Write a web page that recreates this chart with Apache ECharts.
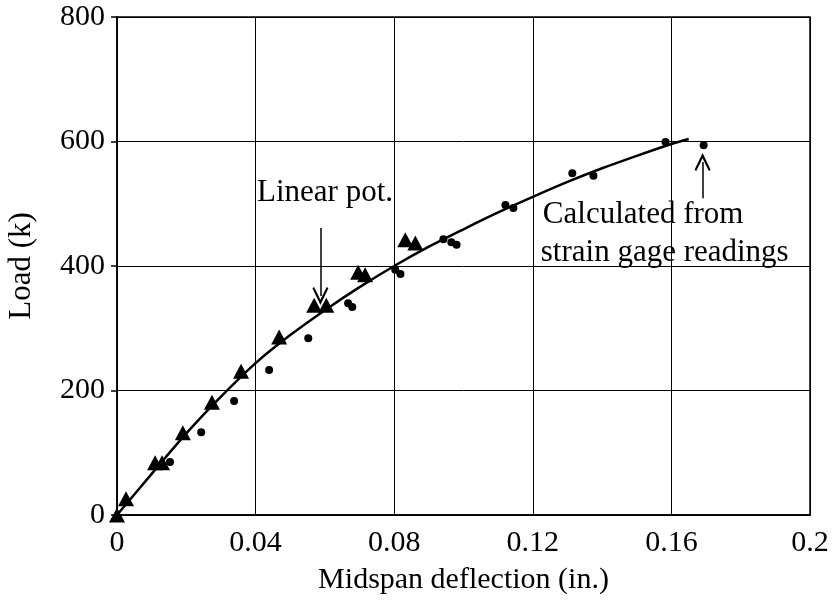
<!DOCTYPE html>
<html>
<head>
<meta charset="utf-8">
<script src="https://cdn.jsdelivr.net/npm/echarts@6/dist/echarts.min.js"></script>
<style>html,body{margin:0;padding:0;background:#fff;}#c{width:834px;height:603px;}</style>
</head>
<body>
<div id="c"></div>
<script>
// Linear pot. readings (triangles)
const potX = [0, 0.0026, 0.011, 0.013, 0.019, 0.0274, 0.0358, 0.0468, 0.0569, 0.0604, 0.0696, 0.0716, 0.0832, 0.0861];
const potY = [0, 26, 84, 84, 132, 181, 231, 286, 337, 337, 390, 386, 442, 437];
// Calculated from strain gage readings (dots)
const gageX = [0.0153, 0.0243, 0.0338, 0.0439, 0.0552, 0.0667, 0.0679, 0.0803, 0.0818, 0.0942, 0.0965, 0.098, 0.1121, 0.1144, 0.1314, 0.1375, 0.1583, 0.1693];
const gageY = [85, 133, 183, 233, 284, 340, 334, 394, 387, 443, 438, 434, 498, 493, 549, 545, 599, 594];
// Fitted curve
const fitX = [0, 0.01, 0.02, 0.03, 0.04, 0.05, 0.06, 0.07, 0.08, 0.09, 0.10, 0.11, 0.12, 0.13, 0.14, 0.15, 0.16, 0.165];
const fitY = [0, 66, 131, 190, 244, 289, 329, 366, 400, 431, 459, 486, 511, 535, 557, 577, 596, 604];
// Tick labels
const xTicks = ['0', '0.04', '0.08', '0.12', '0.16', '0.2'];
const yTicks = ['0', '200', '400', '600', '800'];
// Annotations
const potLabel = {text: 'Linear pot.', x: 0.0404, y: 517};
const potArrow = {x: 0.0587, y0: 461, y1: 352};
const gageLabel1 = {text: 'Calculated from', x: 0.1229, y: 482};
const gageLabel2 = {text: 'strain gage readings', x: 0.1223, y: 421};
const gageArrow = {x: 0.169, y0: 509, y1: 567};

const zip = (a, b) => a.map((v, i) => [v, b[i]]);
const FONT = 'Liberation Serif';
const chart = echarts.init(document.getElementById('c'));
const arrowHead = 'path://M0,0L8,13.5L6.3,14.6L0,4.2L-6.3,14.6L-8,13.5Z';

chart.setOption({
  animation: false,
  backgroundColor: '#fff',
  grid: {left: 117, right: 24, top: 17, bottom: 88, show: true, borderColor: '#000', borderWidth: 1.5,
    containLabel: false, outerBoundsMode: 'none'},
  xAxis: {
    type: 'value', min: 0, max: 0.2, interval: 0.04,
    name: 'Midspan deflection (in.)', nameLocation: 'middle', nameGap: 50,
    nameTextStyle: {fontFamily: FONT, fontSize: 30, color: '#000'},
    axisLine: {lineStyle: {color: '#000', width: 1.5}},
    axisTick: {show: false},
    axisLabel: {fontFamily: FONT, fontSize: 30, color: '#000', margin: 13,
      formatter: (v) => xTicks[Math.round(v / 0.04)]},
    splitLine: {show: true, lineStyle: {color: '#000', width: 1}}
  },
  yAxis: {
    type: 'value', min: 0, max: 800, interval: 200,
    name: 'Load (k)', nameLocation: 'middle', nameGap: 80, nameRotate: 90,
    nameTextStyle: {fontFamily: FONT, fontSize: 31, color: '#000'},
    axisLine: {show: true, lineStyle: {color: '#000', width: 1.5}},
    axisTick: {show: true, length: 6, lineStyle: {color: '#000', width: 1.5}},
    axisLabel: {fontFamily: FONT, fontSize: 30, color: '#000', margin: 12,
      formatter: (v) => yTicks[Math.round(v / 200)]},
    splitLine: {show: true, lineStyle: {color: '#000', width: 1}}
  },
  series: [
    {
      type: 'line', data: zip(fitX, fitY), smooth: 0.3, showSymbol: false, symbol: 'none',
      lineStyle: {color: '#000', width: 2.5, opacity: 1}, z: 3,
      markLine: {
        silent: true, symbol: ['none', arrowHead], symbolSize: [16, 18],
        lineStyle: {color: '#000', width: 1.5, type: 'solid', opacity: 1}, label: {show: false},
        data: [
          [{coord: [potArrow.x, potArrow.y0]}, {coord: [potArrow.x, potArrow.y1]}],
          [{coord: [gageArrow.x, gageArrow.y0]}, {coord: [gageArrow.x, gageArrow.y1]}]
        ]
      }
    },
    {
      type: 'scatter', data: zip(potX, potY), symbol: 'triangle', symbolSize: [16, 15],
      itemStyle: {color: '#000', opacity: 1}, z: 4
    },
    {
      type: 'scatter', data: zip(gageX, gageY), symbol: 'circle', symbolSize: 8,
      itemStyle: {color: '#000', opacity: 1}, z: 4
    },
    {
      type: 'scatter', symbolSize: 0, silent: true,
      itemStyle: {opacity: 1},
      data: [potLabel, gageLabel1, gageLabel2].map(a => ({value: [a.x, a.y], label: {formatter: a.text}})),
      label: {show: true, position: 'right', distance: 0, fontFamily: FONT, fontSize: 31, color: '#000', opacity: 1}
    }
  ]
});
</script>
</body>
</html>
